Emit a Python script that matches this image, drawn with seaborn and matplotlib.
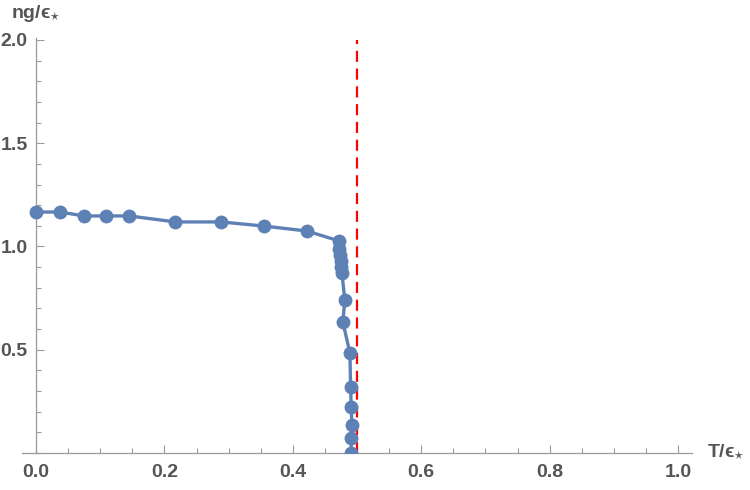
import numpy as np
import matplotlib
matplotlib.use("Agg")
import matplotlib.pyplot as plt
import seaborn as sns
import pandas as pd
from matplotlib.ticker import MultipleLocator

# data
T = [0.0, 0.037, 0.075, 0.109, 0.145, 0.217, 0.288, 0.355, 0.422,
     0.472, 0.4725, 0.4735, 0.4745, 0.4755, 0.4765,
     0.481, 0.478, 0.489, 0.490, 0.491, 0.492, 0.491, 0.491]
ng = [1.167, 1.167, 1.148, 1.148, 1.148, 1.119, 1.119, 1.099, 1.075,
      1.027, 0.988, 0.959, 0.930, 0.901, 0.872,
      0.741, 0.634, 0.484, 0.320, 0.223, 0.136, 0.073, 0.0]
T_crit = 0.5
x_ticks = [0.0, 0.2, 0.4, 0.6, 0.8, 1.0]
y_ticks = [0.5, 1.0, 1.5, 2.0]

sns.set_theme(style="white")
plt.rcParams['font.family'] = ['Liberation Sans', 'DejaVu Sans']
plt.rcParams['mathtext.fontset'] = 'stixsans'

df = pd.DataFrame({"T": T, "ng": ng})

fig = plt.figure(figsize=(7.5, 4.9), dpi=100)
ax = fig.add_axes([22 / 750, 37 / 490, 670 / 750, 415 / 490])

blue = "#5E81B5"
ax.plot([T_crit, T_crit], [0, 2.0], color="red", lw=1.6,
        linestyle=(0, (5, 3)), zorder=2)
sns.lineplot(data=df, x="T", y="ng", sort=False, estimator=None,
             color=blue, lw=2.4, marker="o", markersize=10,
             markeredgewidth=0, ax=ax, zorder=3)

ax.set_xlim(-14 / 642, 656 / 642)
ax.set_ylim(0, 415 / 206.5)

for s in ["top", "right"]:
    ax.spines[s].set_visible(False)
ax.spines["left"].set_position(("data", 0))
for s in ["left", "bottom"]:
    ax.spines[s].set_color("#9a9a9a")
    ax.spines[s].set_linewidth(0.9)

ax.set_xticks(x_ticks)
ax.set_xticklabels([f"{v:.1f}" for v in x_ticks])
ax.set_yticks(y_ticks)
ax.set_yticklabels([f"{v:.1f}" for v in y_ticks])
ax.xaxis.set_minor_locator(MultipleLocator(0.05))
ax.yaxis.set_minor_locator(MultipleLocator(0.1))
ax.tick_params(which="both", direction="in", color="#9a9a9a", width=0.8,
               bottom=True, left=True, labelsize=14, labelcolor="#555555")
ax.tick_params(which="major", length=6)
ax.tick_params(axis="x", which="major", pad=8)
ax.tick_params(axis="y", which="major", pad=6)
ax.tick_params(which="minor", length=3.5)
for lab in ax.get_xticklabels() + ax.get_yticklabels():
    lab.set_fontweight("bold")

ax.set_xlabel("")
ax.set_ylabel("")
ax.grid(False)

fig.text(11 / 750, 1 - 14 / 490, "ng/\u03f5$_{\\star}$", fontsize=14,
         fontweight="bold", color="#555555", ha="left", va="center")
fig.text(707 / 750, 1 - 452 / 490, "T/\u03f5$_{\\star}$", fontsize=14,
         fontweight="bold", color="#555555", ha="left", va="center")

fig.savefig("out.png", dpi=100)
